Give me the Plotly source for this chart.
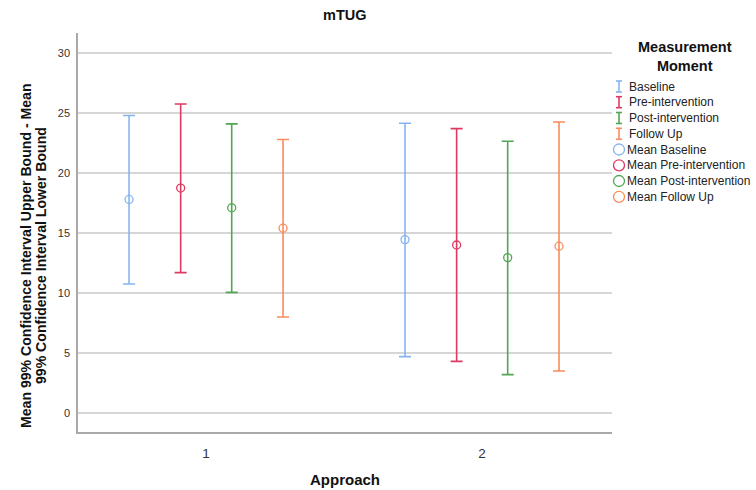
import plotly.graph_objects as go

# Approach groups and measurement moments
approaches = [1, 2]
moments = ["Baseline", "Pre-intervention", "Post-intervention", "Follow Up"]
colors = ["#85B5F1", "#DD3A62", "#52A552", "#F98C5C"]

# Mean and 99% confidence interval bounds per moment, per approach
mean_vals = {
    "Baseline": [17.8, 14.45],
    "Pre-intervention": [18.75, 14.0],
    "Post-intervention": [17.1, 12.95],
    "Follow Up": [15.4, 13.9],
}
upper_vals = {
    "Baseline": [24.8, 24.15],
    "Pre-intervention": [25.75, 23.7],
    "Post-intervention": [24.1, 22.65],
    "Follow Up": [22.8, 24.25],
}
lower_vals = {
    "Baseline": [10.75, 4.7],
    "Pre-intervention": [11.7, 4.3],
    "Post-intervention": [10.05, 3.2],
    "Follow Up": [8.0, 3.5],
}
y_ticks = [0, 5, 10, 15, 20, 25, 30]

# horizontal dodge of each moment within an approach
dodge = [-0.279, -0.092, 0.093, 0.279]

W, H = 756, 490
M_L, M_R, M_T, M_B = 78, 144, 33, 58
PW, PH = W - M_L - M_R, H - M_T - M_B


def px_x(px):
    return (px - M_L) / PW


def px_y(py):
    return (H - M_B - py) / PH


FONT = "Liberation Sans, Arial, sans-serif"

fig = go.Figure()

for i, m in enumerate(moments):
    xs = [a + dodge[i] for a in approaches]
    means = mean_vals[m]
    up = [u - c for u, c in zip(upper_vals[m], means)]
    lo = [c - l for c, l in zip(means, lower_vals[m])]
    # confidence interval bar
    fig.add_trace(go.Scatter(
        x=xs, y=means, mode="markers", name=m, showlegend=False,
        marker=dict(size=1, color="rgba(0,0,0,0)"),
        error_y=dict(type="data", symmetric=False, array=up, arrayminus=lo,
                     color=colors[i], thickness=1.6, width=6),
        hoverinfo="skip",
    ))
    # mean marker
    fig.add_trace(go.Scatter(
        x=xs, y=means, mode="markers", name="Mean " + m, showlegend=False,
        marker=dict(symbol="circle-open", size=8, color=colors[i],
                    line=dict(width=1.3, color=colors[i])),
    ))

shapes = []
annotations = []

# chart title
annotations.append(dict(
    x=px_x(345), y=px_y(15), xref="paper", yref="paper",
    text="<b>mTUG</b>", showarrow=False, xanchor="center", yanchor="middle",
    font=dict(family=FONT, size=14.5, color="#111"),
))

# y axis title, two rotated lines
for xc, line in [(26, "Mean 99% Confidence Interval Upper Bound - Mean"),
                 (41, "99% Confidence Interval Lower Bound")]:
    annotations.append(dict(
        x=px_x(xc), y=px_y(256), xref="paper", yref="paper",
        text="<b>" + line + "</b>", showarrow=False, textangle=-90,
        xanchor="center", yanchor="middle",
        font=dict(family=FONT, size=14.1, color="#111"),
    ))

# x axis title
annotations.append(dict(
    x=px_x(345), y=px_y(479), xref="paper", yref="paper",
    text="<b>Approach</b>", showarrow=False, xanchor="center", yanchor="middle",
    font=dict(family=FONT, size=15, color="#111"),
))

# legend block
annotations.append(dict(
    x=px_x(685), y=px_y(56), xref="paper", yref="paper",
    text="<b>Measurement<br>Moment</b>", showarrow=False,
    xanchor="center", yanchor="middle",
    font=dict(family=FONT, size=14.5, color="#111"),
))
legend_y = [86.5, 102.2, 118.0, 133.8, 149.5, 165.3, 181.0, 196.8]
ix = 619
for i, m in enumerate(moments):
    yc = legend_y[i]
    c = colors[i]
    shapes.append(dict(type="line", xref="paper", yref="paper",
                       x0=px_x(ix), x1=px_x(ix), y0=px_y(yc - 5.5), y1=px_y(yc + 5.5),
                       line=dict(color=c, width=1.6)))
    for dy in (-5.5, 5.5):
        shapes.append(dict(type="line", xref="paper", yref="paper",
                           x0=px_x(ix - 3), x1=px_x(ix + 3), y0=px_y(yc + dy), y1=px_y(yc + dy),
                           line=dict(color=c, width=1.6)))
    annotations.append(dict(x=px_x(627), y=px_y(yc), xref="paper", yref="paper",
                            text=m, showarrow=False, xanchor="left", yanchor="middle",
                            font=dict(family=FONT, size=12, color="#222")))
for i, m in enumerate(moments):
    yc = legend_y[4 + i]
    c = colors[i]
    shapes.append(dict(type="circle", xref="paper", yref="paper",
                       x0=px_x(ix - 5.5), x1=px_x(ix + 5.5), y0=px_y(yc + 5.5), y1=px_y(yc - 5.5),
                       line=dict(color=c, width=1.3)))
    annotations.append(dict(x=px_x(625), y=px_y(yc), xref="paper", yref="paper",
                            text="Mean " + m, showarrow=False, xanchor="left", yanchor="middle",
                            font=dict(family=FONT, size=12, color="#222")))

fig.update_layout(
    width=W, height=H,
    margin=dict(l=M_L, r=M_R, t=M_T, b=M_B, pad=0),
    paper_bgcolor="white", plot_bgcolor="white",
    showlegend=False,
    font=dict(family=FONT),
    shapes=shapes,
    annotations=annotations,
)

fig.update_xaxes(
    range=[0.536, 2.471], tickvals=approaches, ticktext=[str(a) for a in approaches],
    showgrid=False, zeroline=False, showline=True, linecolor="#a9a9a9", linewidth=1.5,
    ticks="", ticklabelstandoff=8, tickfont=dict(family=FONT, size=13.5, color="#333"),
)
fig.update_yaxes(
    range=[-1.583, 31.67], tickvals=y_ticks,
    showgrid=True, gridcolor="#d6d6d6", gridwidth=1.5, zeroline=False,
    showline=True, linecolor="#a9a9a9", linewidth=1.5,
    ticks="", ticklabelstandoff=4, tickfont=dict(family=FONT, size=11, color="#333"),
)

fig.write_html("out.html")
